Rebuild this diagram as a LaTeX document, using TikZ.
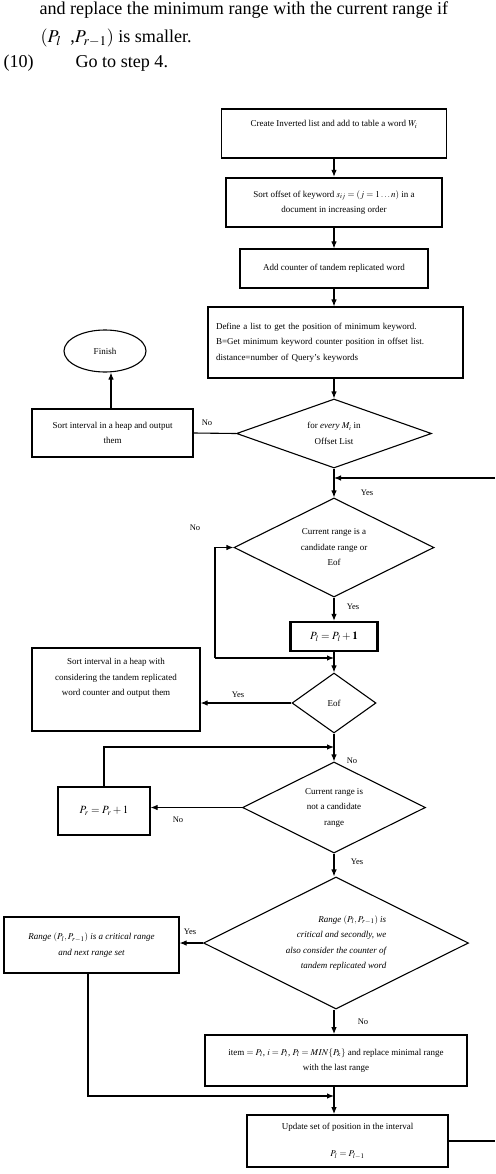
\documentclass[tikz,border=0pt]{standalone}
\usepackage{mathptmx}
\usepackage{fontspec}
\setmainfont{Liberation Serif}
\usetikzlibrary{shapes.geometric,arrows.meta}

\begin{document}
\begin{tikzpicture}[x=1pt,y=-1pt,line width=1.1pt,>={Latex[length=7pt,width=5.5pt]},
  para/.style={anchor=west,inner sep=0pt,font=\fontsize{18.1}{22}\selectfont},
  small/.style={font=\fontsize{9}{15.5}\selectfont},
  box/.style={draw,rectangle,align=center,inner sep=2pt,small},
  boldbox/.style={box,line width=2.2pt},
  decision/.style={draw,diamond,aspect=2,inner sep=0pt,align=center,small},
  lbl/.style={inner sep=0pt,font=\fontsize{8.5}{9}\selectfont}]
\useasboundingbox (0,0) rectangle (495,1174);

% end of step 9 and step 10
\node[para] (line1) at (39,10) {and replace the minimum range with the current range if};
\node[para] (line2) at (40,38) {$(P_l$\ \ ,$P_{r-1})$ is smaller.};
\node[para] (stepno) at (3,63) {(10)};
\node[para] (gostep) at (75,63) {Go to step 4.};

% main column
\node[box,minimum width=225,minimum height=49,
  label={[anchor=north,yshift=-8pt,small]north:Create Inverted list and add to table a word $W_i$}] (create) at (334,133.5) {};
\node[boldbox,minimum width=216,minimum height=49] (sortoff) at (334,202.5) {Sort offset of keyword $s_{ij}=(j=1\ldots n)$ in a\\document in increasing order};
\node[box,minimum width=188,minimum height=39] (counter) at (334,268.5) {Add counter of tandem replicated word};
\node[box,text width=239,inner xsep=8,minimum height=71,align=left] (define) at (335.5,342.5) {Define a list to get the position of minimum keyword.\\B=Get minimum keyword counter position in offset list.\\distance=number of Query's keywords};
\node[decision,minimum width=195,minimum height=69] (forevery) at (334,433.5) {for \textit{every} $M_i$ in\\Offset List};
\node[decision,minimum width=200,minimum height=99] (candidate) at (334,547.5) {Current range is a\\candidate range or\\Eof};
\node[boldbox,minimum width=87,minimum height=29,font=\fontsize{11}{12}\selectfont] (inclp) at (334,636.5) {$P_l=P_l+\mathbf{1}$};
\node[decision,minimum width=84,minimum height=60] (eof) at (334,703) {Eof};
\node[decision,minimum width=183,minimum height=91] (notcand) at (334,807.5) {Current range is\\not a candidate\\range};
\node[decision,minimum width=265,minimum height=132,align=right,font=\fontsize{9}{15.5}\selectfont\itshape] (critical) at (336,943) {Range $(P_l,P_{r-1})$ is\\critical and secondly, we\\also consider the counter of\\tandem replicated word};
\node[boldbox,line width=1.7pt,minimum width=262,minimum height=51] (item) at (336,1060.5) {item $=P_l$, $i=P_l$, $P_l=MIN\{P_k\}$ and replace minimal range\\with the last range};
\node[boldbox,line width=1.7pt,minimum width=201,minimum height=52] (update) at (347.5,1141) {Update set of position in the interval\\[12pt]$P_l=P_{l-1}$};

% side boxes
\node[draw,ellipse,minimum width=82,minimum height=42,small] (finish) at (105,351) {Finish};
\node[box,minimum width=161,minimum height=48] (sortheap) at (112.5,433) {Sort interval in a heap and output\\them};
\node[box,minimum width=168,minimum height=83,
  label={[anchor=north,yshift=-7pt,align=center,small]north:Sort interval in a heap with\\considering the tandem replicated\\word counter and output them}] (sortcount) at (116,689.5) {};
\node[box,minimum width=92,minimum height=48,font=\fontsize{11}{12}\selectfont] (incrp) at (104,811) {$P_r=P_r+1$};
\node[box,minimum width=175,minimum height=56,font=\fontsize{9}{15.5}\selectfont\itshape] (critbox) at (91.5,945) {Range $(P_l,P_{r-1})$ is a critical range\\and next range set};

% joins
\coordinate (backin) at (495,478);
\coordinate (join1) at (334,478);
\coordinate (loopA) at (215,658);
\coordinate (join2) at (334,658);
\coordinate (join3) at (334,747);
\coordinate (join4) at (334,1096);
\coordinate (backout) at (495,1141);

\path[draw,->] (create) -- (sortoff);
\path[draw,->] (sortoff) -- (counter);
\path[draw,->] (counter) -- (define.north -| counter);
\path[draw,->] (define.south -| forevery) -- (forevery);
\path[draw] (forevery.west) -- (sortheap.east);
\path[draw,->] (sortheap.north -| 111,0) -- (finish.south -| 111,0);
\path[draw,->] (forevery) -- (candidate);
\path[draw,->] (backin) -- (join1);
\path[draw,->] (candidate) -- (inclp);
\path[draw,->] (loopA) |- (candidate.west);
\path[draw,->] (loopA) -- (join2);
\path[draw,->] (inclp) -- (eof);
\path[draw,->] (eof.west) -- (sortcount.east |- eof.west);
\path[draw,->] (eof) -- (notcand);
\path[draw,->] (incrp.north) |- (join3);
\path[draw,->] (notcand.west) -- (incrp.east |- notcand.west);
\path[draw,->] (notcand) -- (critical.north -| notcand);
\path[draw,->] (critical.west) -- (critbox.east |- critical.west);
\path[draw,->] (critical.south -| notcand) -- (item.north -| notcand);
\path[draw,->] (critbox.south -| 88,0) |- (join4);
\path[draw,->] (item.south -| notcand) -- (update.north -| notcand);
\path[draw,line width=1.6pt] (update.east) -- (backout);

% branch labels
\node[lbl] (no1) at (207,423) {No};
\node[lbl] (yes1) at (367,493) {Yes};
\node[lbl] (no2) at (195,528) {No};
\node[lbl] (yes2) at (353,607) {Yes};
\node[lbl] (yes3) at (238,695) {Yes};
\node[lbl] (no3) at (352,761) {No};
\node[lbl] (no4) at (178,820) {No};
\node[lbl] (yes4) at (357,862) {Yes};
\node[lbl] (yes5) at (190,932) {Yes};
\node[lbl] (no5) at (363,1022) {No};
\end{tikzpicture}
\end{document}
